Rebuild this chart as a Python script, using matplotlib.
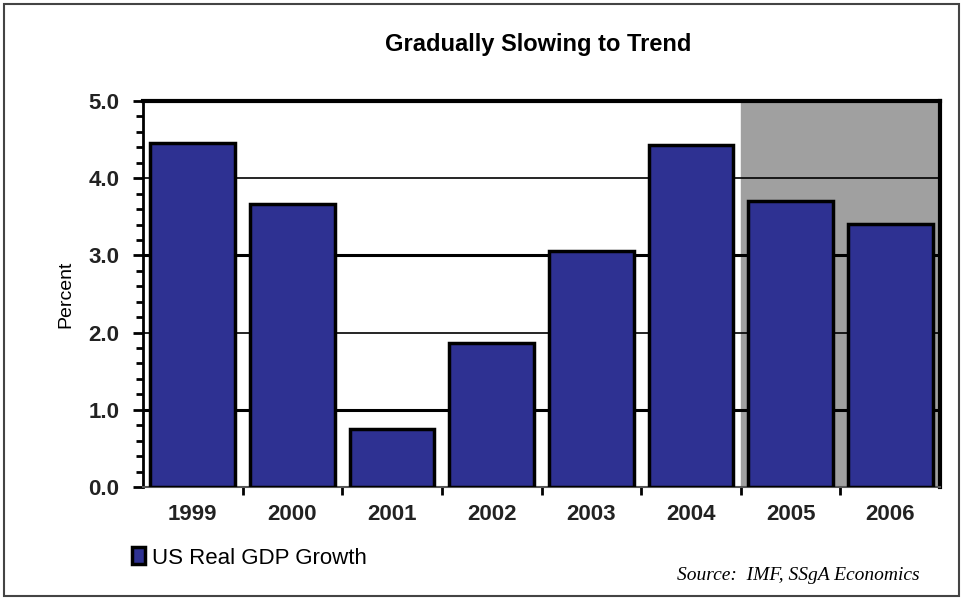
import matplotlib.pyplot as plt
from matplotlib.patches import Rectangle

plt.rcParams['font.family'] = ['Liberation Sans', 'DejaVu Sans']

# 데이터
years = ['1999', '2000', '2001', '2002', '2003', '2004', '2005', '2006']
gdp_growth = [4.46, 3.67, 0.75, 1.87, 3.06, 4.43, 3.70, 3.41]
forecast_years = ['2005', '2006']

fig = plt.figure(figsize=(9.63, 6.0), dpi=100)
ax = fig.add_axes([143/963, 1 - 487/600, 797/963, 386/600])

# 예측 구간 음영
first_fc = years.index(forecast_years[0])
ax.axvspan(first_fc - 0.5, len(years) - 0.5, color='#a0a0a0', zorder=0)

# 격자선
for v, lw in [(1.0, 2.2), (2.0, 1.2), (3.0, 2.2), (4.0, 1.2)]:
    ax.axhline(v, color='black', lw=lw, zorder=1)

x = range(len(years))
ax.bar(x, gdp_growth, width=0.85, color='#2e3192', edgecolor='black', lw=2.5,
       zorder=3, label='US Real GDP Growth')

ax.set_xlim(-0.5, len(years) - 0.5)
ax.set_ylim(0, 5)
ax.set_yticks([0, 1, 2, 3, 4, 5])
ax.set_yticklabels([f'{v:.1f}' for v in [0, 1, 2, 3, 4, 5]], fontsize=16, fontweight='bold', color='#222222')
ax.set_yticks([i * 0.2 for i in range(26)], minor=True)
ax.set_xticks(list(x))
ax.set_xticklabels(years, fontsize=16, fontweight='bold', color='#222222')
ax.set_xticks([i + 0.5 for i in range(len(years) - 1)], minor=True)
ax.tick_params(axis='x', which='major', length=0, pad=12)
ax.tick_params(axis='x', which='minor', length=6, width=2, direction='out')
ax.tick_params(axis='y', which='major', length=7, width=2, direction='out', pad=10)
ax.tick_params(axis='y', which='minor', length=5, width=2, direction='out')

ax.spines['top'].set_linewidth(3)
ax.spines['right'].set_linewidth(3)
ax.spines['left'].set_linewidth(2)
ax.spines['bottom'].set_linewidth(1.5)
ax.spines['bottom'].set_color('#555555')

ax.set_ylabel('Percent', fontsize=14, labelpad=10)
fig.text(538/963, 1 - 44/600, 'Gradually Slowing to Trend', ha='center', va='center',
         fontsize=17, fontweight='bold')

# 범례
fig.legend(loc='center left', bbox_to_anchor=(112/963, 1 - 558/600), frameon=False,
           fontsize=16, handlelength=0.6, handleheight=0.8, handletextpad=0.3)

fig.text(920/963, 1 - 576/600, 'Source:  IMF, SSgA Economics', ha='right', va='center',
         fontsize=14, style='italic', family='Liberation Serif')

# 바깥 테두리
fig.patches.append(Rectangle((4/963, 4/600), 955/963, 592/600, transform=fig.transFigure,
                             fill=False, edgecolor='#444444', lw=1.5))

fig.savefig('out.png', dpi=100)
